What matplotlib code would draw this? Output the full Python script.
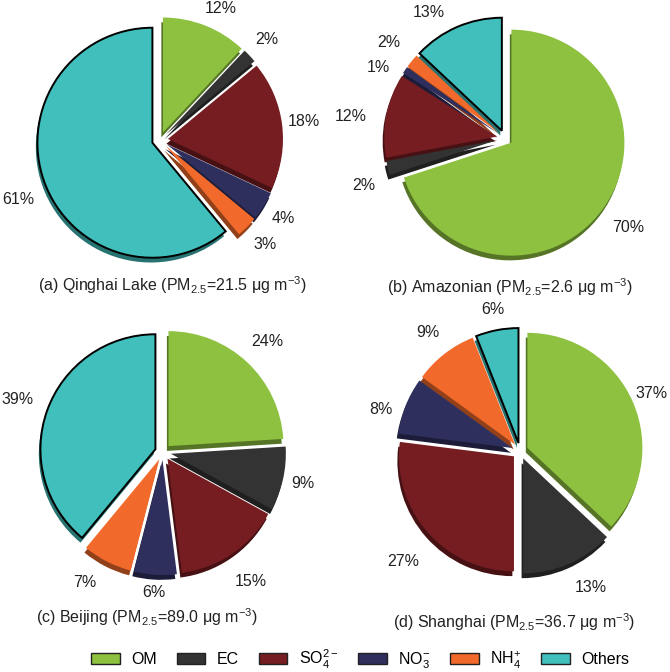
import matplotlib
matplotlib.use("Agg")
import matplotlib.pyplot as plt
import numpy as np
from matplotlib.patches import Patch, Shadow

plt.rcParams["font.family"] = ["Liberation Sans", "DejaVu Sans"]
plt.rcParams["mathtext.fontset"] = "custom"
plt.rcParams["mathtext.rm"] = "Liberation Sans"
plt.rcParams["mathtext.it"] = "Liberation Sans:italic"
plt.rcParams["mathtext.bf"] = "Liberation Sans:bold"

components = ["OM", "EC", "SO$_4^{2-}$", "NO$_3^{-}$", "NH$_4^{+}$", "Others"]
colors = ["#8dc13f", "#333333", "#761d22", "#2f2f5e", "#f26a2b", "#40bfbc"]

qinghai = [12, 2, 18, 4, 3, 61]
amazonian = [70, 2, 12, 1, 2, 13]
beijing = [24, 9, 15, 6, 7, 39]
shanghai = [37, 13, 27, 8, 9, 6]

titles = [
    "(a) Qinghai Lake (PM$_{2.5}$=21.5 μg m$^{-3}$)",
    "(b) Amazonian (PM$_{2.5}$=2.6 μg m$^{-3}$)",
    "(c) Beijing (PM$_{2.5}$=89.0 μg m$^{-3}$)",
    "(d) Shanghai (PM$_{2.5}$=36.7 μg m$^{-3}$)",
]

W, H = 670, 672
fig = plt.figure(figsize=(W / 100, H / 100), dpi=100)

# pixel layout: pie centre, radius, caption position
layout = [
    ((160, 140), 115, (172, 285)),
    ((505, 138), 113, (510, 287)),
    ((163, 452), 115, (147, 617)),
    ((520, 451), 115, (514, 622)),
]

# label distance (in radii) and angle nudge (deg) for each percentage
label_dist = [
    [1.26, 1.28, 1.26, 1.27, 1.29, 1.34],
    [1.35, 1.32, 1.38, 1.28, 1.33, 1.30],
    [1.32, 1.25, 1.36, 1.22, 1.32, 1.34],
    [1.25, 1.34, 1.40, 1.26, 1.30, 1.25],
]
label_nudge = [
    [-3, 0, 0, 0, 0, 3],
    [0, 4, 3, 5, 0, 8],
    [0, 0, 0, 0, -4, 0],
    [0, 4, 2, 5, 0, 0],
]


def add_pie(values, centre, radius, caption_pos, caption, dists, nudges):
    cx, cy = centre
    s = 175
    ax = fig.add_axes([(cx - s) / W, 1 - (cy + s) / H, 2 * s / W, 2 * s / H])
    wedges, texts, autotexts = ax.pie(
        values,
        colors=colors,
        startangle=90,
        counterclock=False,
        explode=[0.07] * len(values),
        autopct="%1.0f%%",
        pctdistance=1.2,
        shadow={"ox": -0.01, "oy": -0.03, "shade": 0.4},
        wedgeprops={"linewidth": 0},
        textprops={"fontsize": 11.5, "color": "#222222"},
    )
    for p in ax.patches:
        if isinstance(p, Shadow):
            p.set_alpha(1.0)
    # "Others" wedge has a black outline
    wedges[-1].set_edgecolor("black")
    wedges[-1].set_linewidth(1.4)
    for w, t, d, n in zip(wedges, autotexts, dists, nudges):
        ang = np.deg2rad((w.theta1 + w.theta2) / 2 + n)
        t.set_position((d * np.cos(ang), d * np.sin(ang)))
    ax.set_xlim(-s / radius, s / radius)
    ax.set_ylim(-s / radius, s / radius)
    ax.set_aspect("equal")
    ax.axis("off")
    fig.text(caption_pos[0] / W, 1 - caption_pos[1] / H, caption,
             ha="center", va="center", fontsize=11.5, color="#222222")
    return ax


for i, vals in enumerate([qinghai, amazonian, beijing, shanghai]):
    c, r, cp = layout[i]
    add_pie(vals, c, r, cp, titles[i], label_dist[i], label_nudge[i])

handles = [Patch(facecolor=col, edgecolor="#222222", linewidth=1.0) for col in colors]
fig.legend(handles, components, loc="center", ncol=6,
           bbox_to_anchor=(360 / W, 1 - 659 / H), frameon=False,
           fontsize=11.5, handlelength=1.8, handleheight=0.75,
           handletextpad=0.7, columnspacing=1.25)

fig.savefig("out.png", dpi=100)
